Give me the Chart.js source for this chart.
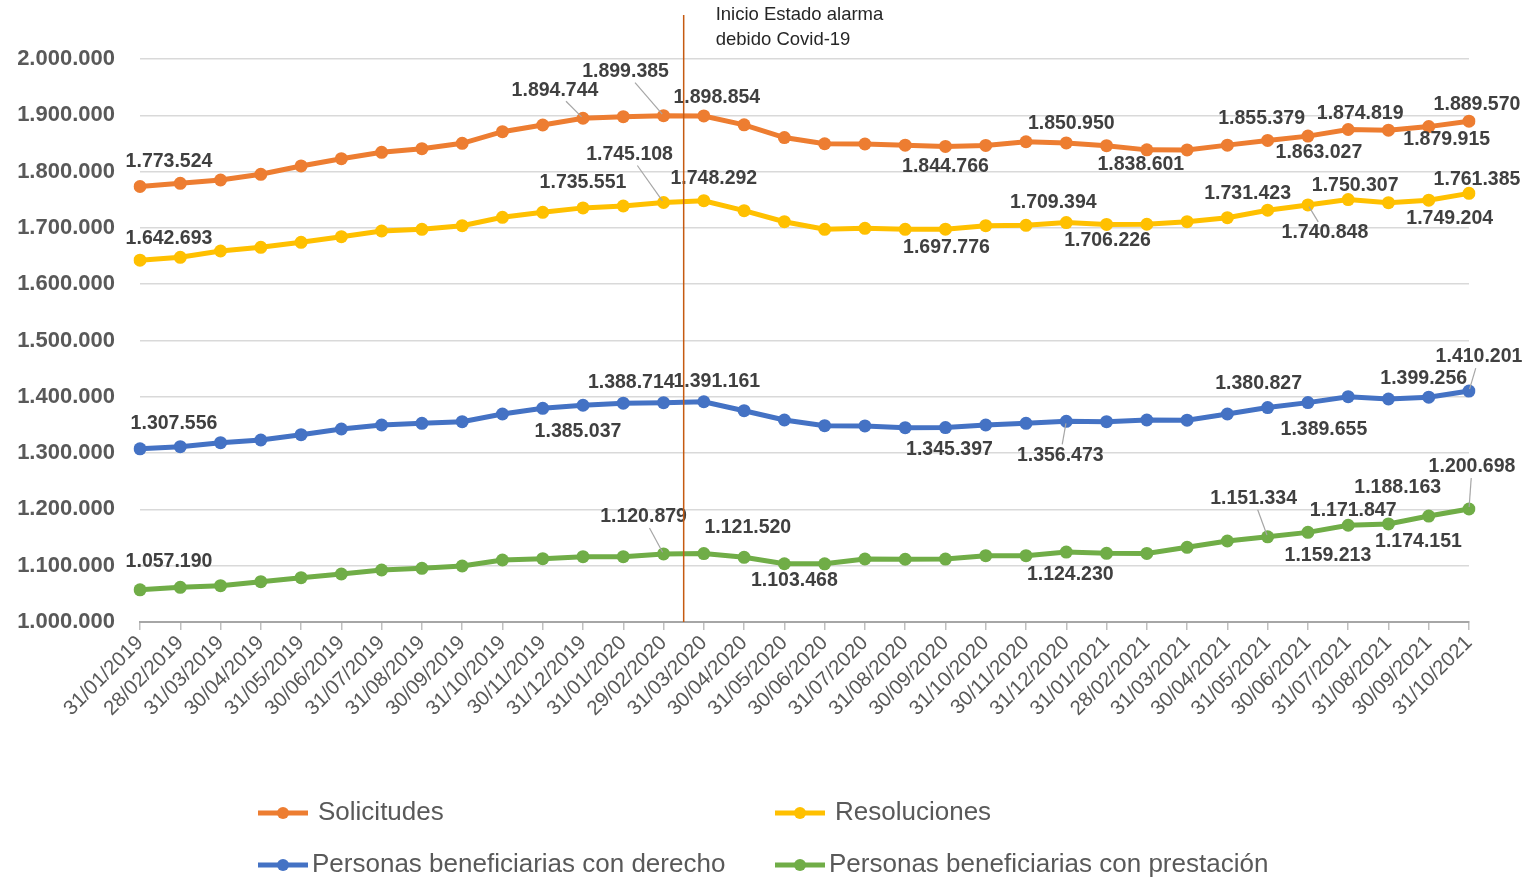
<!DOCTYPE html>
<html lang="es">
<head>
<meta charset="utf-8">
<title>Solicitudes, resoluciones y personas beneficiarias</title>
<script src="https://cdn.jsdelivr.net/npm/chart.js@4.4.1/dist/chart.umd.min.js"></script>
<style>
  html, body { margin: 0; padding: 0; background: #fff; }
  #chart { display: block; }
</style>
</head>
<body>
<canvas id="chart" width="1527" height="883"></canvas>
<script>
// fechas de corte mensuales
const fechas = [
  '31/01/2019', '28/02/2019', '31/03/2019', '30/04/2019', '31/05/2019', '30/06/2019',
  '31/07/2019', '31/08/2019', '30/09/2019', '31/10/2019', '30/11/2019', '31/12/2019',
  '31/01/2020', '29/02/2020', '31/03/2020', '30/04/2020', '31/05/2020', '30/06/2020',
  '31/07/2020', '31/08/2020', '30/09/2020', '31/10/2020', '30/11/2020', '31/12/2020',
  '31/01/2021', '28/02/2021', '31/03/2021', '30/04/2021', '31/05/2021', '30/06/2021',
  '31/07/2021', '31/08/2021', '30/09/2021', '31/10/2021'
];

const solicitudes = [
  1773524, 1779200, 1785100, 1795200, 1810000, 1822900, 1834300, 1840700, 1850300, 1870900,
  1882800, 1894744, 1897500, 1899385, 1898854, 1883000, 1860500, 1849500, 1849000, 1847000,
  1844766, 1846500, 1853000, 1850950, 1846000, 1838601, 1838500, 1847000, 1855379, 1863027,
  1874819, 1873500, 1879915, 1889570
];

const resoluciones = [
  1642693, 1647800, 1659000, 1665500, 1674400, 1684400, 1694500, 1697500, 1703900, 1718800,
  1727700, 1735551, 1738900, 1745108, 1748292, 1730600, 1711000, 1697500, 1699300, 1697500,
  1697776, 1704000, 1704500, 1709394, 1706226, 1706500, 1711000, 1718100, 1731423, 1740848,
  1750307, 1744800, 1749204, 1761385
];

const conDerecho = [
  1307556, 1311400, 1318500, 1323300, 1332700, 1342800, 1349900, 1352900, 1355800, 1369400,
  1379600, 1385037, 1388714, 1389500, 1391161, 1375300, 1358800, 1348700, 1348300, 1345100,
  1345397, 1349900, 1352900, 1356473, 1355800, 1358800, 1358500, 1369400, 1380827, 1389655,
  1400200, 1396100, 1399256, 1410201
];

const conPrestacion = [
  1057190, 1061600, 1064500, 1071600, 1078700, 1085300, 1092400, 1095400, 1099500, 1110100,
  1112400, 1116000, 1116000, 1120879, 1121520, 1114900, 1103468, 1103300, 1111900, 1111500,
  1111800, 1117800, 1117800, 1124230, 1122000, 1121800, 1132700, 1143900, 1151334, 1159213,
  1171847, 1174151, 1188163, 1200698
];

// 14/03/2020: entre el punto de febrero y el de marzo
const inicioAlarma = 13.5;
const textoAlarma = ['Inicio Estado alarma', 'debido Covid-19'];

// etiquetas visibles: [indice, dx, dy, linea guia]
const etiquetas = [
  [[0, 29, -25], [11, -28, -28, true], [13, -38, -44, true], [14, 13, -18], [20, 0, 20],
   [23, 5, -19], [25, -6, 15], [28, -6, -22], [29, 11, 17], [30, 12, -16], [32, 18, 13], [33, 8, -17]],
  [[0, 29, -22], [11, 0, -25], [13, -34, -48, true], [14, 10, -22], [20, 1, 18], [23, -13, -20],
   [24, 1, 16], [28, -20, -17], [29, 17, 28, true], [30, 7, -14], [32, 21, 18], [33, 8, -14]],
  [[0, 34, -25], [11, -5, 26], [12, 8, -21], [14, 13, -20], [20, 4, 22], [23, -6, 34, true],
   [28, -9, -24], [29, 16, 27], [32, -5, -19], [33, 10, -34, true]],
  [[0, 29, -28], [13, -20, -37, true], [14, 44, -26], [16, 10, 17], [23, 4, 23],
   [28, -14, -38, true], [29, 20, 23], [30, 5, -15], [31, 30, 18], [32, -31, -28], [33, 3, -42, true]]
];

const FONT = "'Liberation Sans', Arial, sans-serif";

function miles(v) {
  return String(Math.round(v)).replace(/\B(?=(\d{3})+(?!\d))/g, '.');
}

function serie(label, data, color) {
  return {
    label: label,
    data: data,
    borderColor: color,
    backgroundColor: color,
    borderWidth: 5,
    pointRadius: 6.5,
    pointHoverRadius: 6.5,
    pointBackgroundColor: color,
    pointBorderColor: color,
    pointBorderWidth: 0,
    tension: 0
  };
}

const extras = {
  id: 'extras',
  afterDatasetsDraw(chart) {
    const ctx = chart.ctx;
    const x = chart.scales.x;
    const area = chart.chartArea;

    // etiquetas de datos
    ctx.save();
    ctx.font = "bold 19.5px " + FONT;
    ctx.textAlign = 'center';
    ctx.textBaseline = 'middle';
    etiquetas.forEach((lista, d) => {
      const meta = chart.getDatasetMeta(d);
      lista.forEach(([i, dx, dy, guia]) => {
        const p = meta.data[i];
        const lx = p.x + dx, ly = p.y + dy;
        const txt = miles(chart.data.datasets[d].data[i]);
        if (guia) {
          const w = ctx.measureText(txt).width / 2 + 2, h = 11;
          const vx = p.x - lx, vy = p.y - ly;
          const t = Math.min(Math.abs(w / (vx || 1e-6)), Math.abs(h / (vy || 1e-6)));
          const len = Math.hypot(vx, vy);
          ctx.strokeStyle = '#a6a6a6';
          ctx.lineWidth = 1.2;
          ctx.beginPath();
          ctx.moveTo(lx + vx * t, ly + vy * t);
          ctx.lineTo(p.x - vx / len * 2, p.y - vy / len * 2);
          ctx.stroke();
        }
        ctx.fillStyle = '#404040';
        ctx.fillText(txt, lx, ly);
      });
    });
    ctx.restore();

    // linea del estado de alarma
    const ax = x.getPixelForValue(inicioAlarma);
    ctx.save();
    ctx.strokeStyle = '#c55a11';
    ctx.lineWidth = 1.5;
    ctx.beginPath();
    ctx.moveTo(ax, 15);
    ctx.lineTo(ax, area.bottom);
    ctx.stroke();
    ctx.fillStyle = '#262626';
    ctx.font = "18.5px " + FONT;
    ctx.textAlign = 'left';
    ctx.textBaseline = 'middle';
    textoAlarma.forEach((t, k) => ctx.fillText(t, ax + 32, 15 + k * 25));
    ctx.restore();
  },
  afterDraw(chart) {
    // leyenda en dos columnas
    const ctx = chart.ctx;
    const cols = [258, 775];
    const rows = [813, 865];
    ctx.save();
    ctx.font = "26px " + FONT;
    ctx.textBaseline = 'middle';
    chart.data.datasets.forEach((ds, k) => {
      const x0 = cols[k % 2], y0 = rows[Math.floor(k / 2)];
      ctx.strokeStyle = ds.borderColor;
      ctx.lineWidth = 5;
      ctx.beginPath();
      ctx.moveTo(x0, y0);
      ctx.lineTo(x0 + 50, y0);
      ctx.stroke();
      ctx.fillStyle = ds.borderColor;
      ctx.beginPath();
      ctx.arc(x0 + 25, y0, 6, 0, Math.PI * 2);
      ctx.fill();
      ctx.fillStyle = '#595959';
      ctx.fillText(ds.label, x0 + (k < 2 ? 60 : 54), y0);
    });
    ctx.restore();
  }
};

new Chart(document.getElementById('chart'), {
  type: 'line',
  data: {
    labels: fechas,
    datasets: [
      serie('Solicitudes', solicitudes, '#ed7d31'),
      serie('Resoluciones', resoluciones, '#ffc000'),
      serie('Personas beneficiarias con derecho', conDerecho, '#4472c4'),
      serie('Personas beneficiarias con prestación', conPrestacion, '#70ad47')
    ]
  },
  options: {
    responsive: false,
    animation: false,
    layout: { padding: { top: 59, right: 58, bottom: 0, left: 0 } },
    plugins: {
      legend: { display: false },
      tooltip: { enabled: false }
    },
    scales: {
      x: {
        offset: false,
        afterFit(s) { s.height = 261; },
        grid: { drawOnChartArea: false, drawTicks: true, tickLength: 8, color: '#bfbfbf', lineWidth: 1.5 },
        border: { display: true, color: '#a6a6a6', width: 2 },
        ticks: {
          autoSkip: false,
          minRotation: 45,
          maxRotation: 45,
          padding: 1,
          color: '#595959',
          font: { family: FONT, size: 20.5 }
        }
      },
      y: {
        min: 1000000,
        max: 2000000,
        afterFit(s) { s.width = 140; },
        grid: { color: '#d9d9d9', lineWidth: 1.5, drawTicks: false },
        border: { display: false },
        ticks: {
          stepSize: 100000,
          padding: 25,
          color: '#595959',
          font: { family: FONT, size: 22, weight: 'bold' },
          callback: v => miles(v)
        }
      }
    }
  },
  plugins: [extras]
});
</script>
</body>
</html>
